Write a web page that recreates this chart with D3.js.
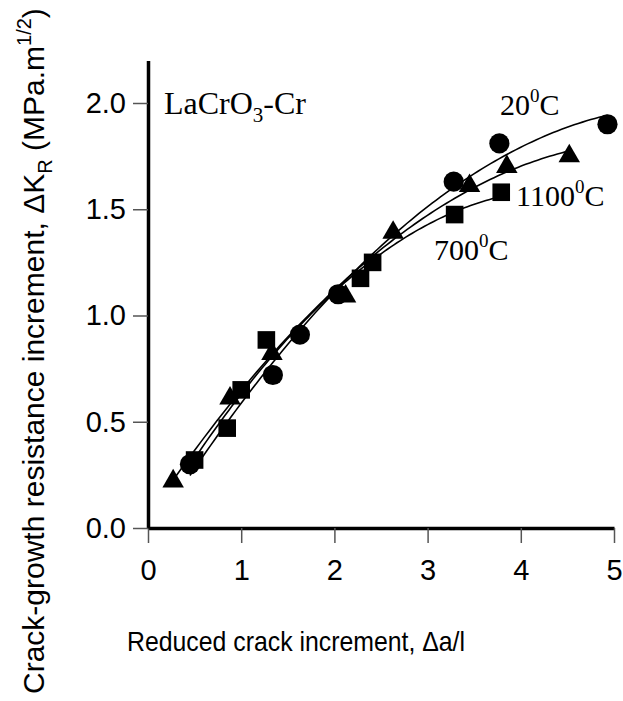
<!DOCTYPE html>
<html><head><meta charset="utf-8">
<script src="https://cdn.jsdelivr.net/npm/d3@7"></script>
<style>body{margin:0;background:#fff}svg{display:block}</style>
</head><body>
<svg id="c" width="623" height="701"></svg>
<script>
// Data
const xTicks = [0, 1, 2, 3, 4, 5];
const yTicks = [0, 0.5, 1.0, 1.5, 2.0];

const c20X = [0.45, 1.34, 1.63, 2.04, 3.28, 3.77, 4.93];
const c20Y = [0.30, 0.72, 0.91, 1.10, 1.63, 1.81, 1.90];

const t1100X = [0.27, 0.88, 1.33, 2.12, 2.63, 3.45, 3.85, 4.52];
const t1100Y = [0.22, 0.61, 0.82, 1.09, 1.39, 1.61, 1.70, 1.75];

const s700X = [0.50, 0.85, 1.00, 1.27, 2.28, 2.41, 3.29, 3.79];
const s700Y = [0.32, 0.47, 0.65, 0.885, 1.175, 1.25, 1.475, 1.58];

const svg = d3.select("#c");
const x = d3.scaleLinear().domain([0, 5]).range([148, 614]);
const y = d3.scaleLinear().domain([0, 2.2]).range([528, 60.5]);

// least-squares quadratic fit (trend curves)
function quadFit(xs, ys) {
  let s = [0,0,0,0,0], t = [0,0,0];
  xs.forEach((xi, i) => {
    for (let k = 0; k < 5; k++) s[k] += Math.pow(xi, k);
    for (let k = 0; k < 3; k++) t[k] += ys[i] * Math.pow(xi, k);
  });
  const A = [[s[0], s[1], s[2], t[0]], [s[1], s[2], s[3], t[1]], [s[2], s[3], s[4], t[2]]];
  for (let i = 0; i < 3; i++) {
    let p = A[i][i];
    for (let j = i; j < 4; j++) A[i][j] /= p;
    for (let r = 0; r < 3; r++) if (r !== i) {
      const f = A[r][i];
      for (let j = i; j < 4; j++) A[r][j] -= f * A[i][j];
    }
  }
  return [A[0][3], A[1][3], A[2][3]];
}

function curve(xs, ys) {
  const co = quadFit(xs, ys);
  const x0 = d3.min(xs), x1 = d3.max(xs);
  const pts = d3.range(0, 101).map(i => {
    const xv = x0 + (x1 - x0) * i / 100;
    return [xv, co[0] + co[1] * xv + co[2] * xv * xv];
  });
  svg.append("path").attr("d", d3.line().x(d => x(d[0])).y(d => y(d[1]))(pts))
    .attr("fill", "none").attr("stroke", "#000").attr("stroke-width", 1.6);
}
curve(c20X, c20Y);
curve(t1100X, t1100Y);
curve(s700X, s700Y);

const serif = "'Liberation Serif', 'Times New Roman', serif";
const sans = "'Liberation Sans', Arial, sans-serif";

// axes
const gx = svg.append("g").attr("transform", "translate(0,528)")
  .call(d3.axisBottom(x).tickValues(xTicks).tickFormat(d3.format("d")).tickSize(15).tickSizeOuter(0).tickPadding(8));
const gy = svg.append("g").attr("transform", "translate(148,0)")
  .call(d3.axisLeft(y).tickValues(yTicks).tickFormat(d3.format(".1f")).tickSize(15).tickSizeOuter(0).tickPadding(7));
[gx, gy].forEach(g => {
  g.select(".domain").attr("stroke", "#000").attr("stroke-width", 3.5);
  g.selectAll(".tick line").attr("stroke", "#555").attr("stroke-width", 1.5);
  g.selectAll(".tick text").attr("fill", "#000")
    .style("font-family", sans).style("font-size", "29px");
});
gx.selectAll(".tick text").attr("dy", "1.0em");

// markers
const sym = (type, size) => d3.symbol().type(type).size(size)();
const mk = (xs, ys, type, size) => svg.append("g").selectAll("path").data(xs).join("path")
  .attr("d", sym(type, size)).attr("fill", "#000")
  .attr("transform", (d, i) => `translate(${x(d)},${y(ys[i])})`);
mk(s700X, s700Y, d3.symbolSquare, 310);
mk(t1100X, t1100Y, d3.symbolTriangle, 200);
mk(c20X, c20Y, d3.symbolCircle, 320);

// texts
const lab = svg.append("text").attr("x", 164).attr("y", 114)
  .style("font-family", serif).style("font-size", "32px");
lab.append("tspan").text("LaCrO");
lab.append("tspan").attr("dy", 8).style("font-size", "21px").text("3");
lab.append("tspan").attr("dy", -8).text("-Cr");

function tempLabel(px, py, num) {
  const t = svg.append("text").attr("x", px).attr("y", py)
    .style("font-family", serif).style("font-size", "30px");
  t.append("tspan").text(num);
  t.append("tspan").attr("dy", -13).style("font-size", "19px").text("0");
  t.append("tspan").attr("dy", 13).text("C");
}
tempLabel(500, 115, "20");
tempLabel(516, 206, "1100");
tempLabel(434, 260, "700");

// axis titles
svg.append("text").attr("x", 127).attr("y", 651)
  .style("font-family", sans).style("font-size", "28px")
  .attr("textLength", 338).attr("lengthAdjust", "spacingAndGlyphs")
  .text("Reduced crack increment, \u0394a/l");

const yt = svg.append("text").attr("transform", "translate(44,694) rotate(-90)")
  .style("font-family", sans).style("font-size", "30px");
yt.append("tspan").text("Crack-growth resistance increment, \u0394K");
yt.append("tspan").attr("dy", 8).style("font-size", "20px").text("R");
yt.append("tspan").attr("dy", -8).text(" (MPa.m");
yt.append("tspan").attr("dy", -13).style("font-size", "20px").text("1/2");
yt.append("tspan").attr("dy", 13).text(")");
</script>
</body></html>
